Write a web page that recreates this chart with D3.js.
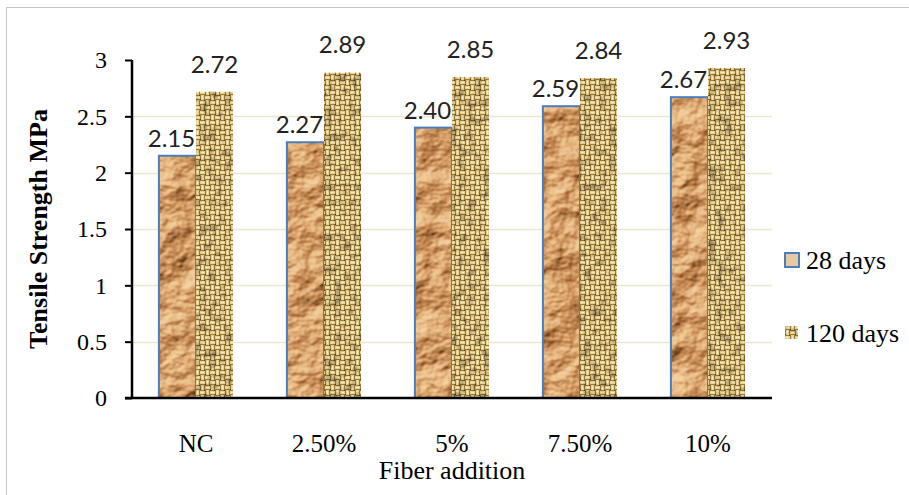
<!DOCTYPE html>
<html>
<head>
<meta charset="utf-8">
<script src="https://cdn.jsdelivr.net/npm/d3@7"></script>
<style>
  html, body { margin: 0; padding: 0; background: #fff; }
  svg { display: block; }
</style>
</head>
<body>
<svg id="chart" width="909" height="495"></svg>
<script>
// ---- data ----
const categories = ["NC", "2.50%", "5%", "7.50%", "10%"];
const seriesNames = ["28 days", "120 days"];
const days28 = [2.15, 2.27, 2.40, 2.59, 2.67];
const days120 = [2.72, 2.89, 2.85, 2.84, 2.93];
const labels28 = ["2.15", "2.27", "2.40", "2.59", "2.67"];
const labels120 = ["2.72", "2.89", "2.85", "2.84", "2.93"];
const yTicks = [0, 0.5, 1, 1.5, 2, 2.5, 3];
const yTickLabels = ["0", "0.5", "1", "1.5", "2", "2.5", "3"];
const gridValues = [0.5, 1, 1.5, 2, 2.5];
const yTitle = "Tensile Strength MPa";
const xTitle = "Fiber addition";

const svg = d3.select("#chart");
const W = 909, H = 495;
const plot = { left: 132, right: 772, top: 60, bottom: 398 };

// ---- defs: textures ----
const defs = svg.append("defs");

// crumpled paper filter: relief from noise, mapped to brown tones
const crumple = defs.append("filter").attr("id", "crumple")
  .attr("filterUnits", "userSpaceOnUse").attr("x", 0).attr("y", 0).attr("width", W).attr("height", H)
  .attr("color-interpolation-filters", "sRGB");
crumple.append("feTurbulence").attr("type", "fractalNoise")
  .attr("baseFrequency", "0.028 0.034").attr("numOctaves", 4).attr("seed", 11).attr("result", "noise");
const light = crumple.append("feDiffuseLighting").attr("in", "noise")
  .attr("lighting-color", "#ffffff").attr("surfaceScale", 7).attr("diffuseConstant", 1).attr("result", "lit");
light.append("feDistantLight").attr("azimuth", 235).attr("elevation", 45);
const ct = crumple.append("feComponentTransfer").attr("in", "lit").attr("result", "tone");
ct.append("feFuncR").attr("type", "table").attr("tableValues", "0.30 0.45 0.66 0.79 0.90 0.96");
ct.append("feFuncG").attr("type", "table").attr("tableValues", "0.16 0.27 0.44 0.56 0.71 0.83");
ct.append("feFuncB").attr("type", "table").attr("tableValues", "0.06 0.12 0.25 0.35 0.50 0.64");
crumple.append("feComposite").attr("in", "tone").attr("in2", "SourceGraphic").attr("operator", "in");

// woven burlap pattern
const weave = defs.append("pattern").attr("id", "weave")
  .attr("patternUnits", "userSpaceOnUse").attr("width", 10).attr("height", 10);
weave.append("rect").attr("width", 10).attr("height", 10).attr("fill", "#9a7b3c");
const lightStrands = [
  [0, 1, 5, 3], [6, 0, 3, 5], [5, 6, 5, 3], [1, 5, 3, 5]
];
weave.selectAll("rect.s").data(lightStrands).enter().append("rect").attr("class", "s")
  .attr("x", d => d[0]).attr("y", d => d[1]).attr("width", d => d[2]).attr("height", d => d[3])
  .attr("fill", "#e6d39a");
const midStrands = [[1, 2, 3, 1], [7, 1, 1, 3], [6, 7, 3, 1], [2, 6, 1, 3]];
weave.selectAll("rect.m").data(midStrands).enter().append("rect").attr("class", "m")
  .attr("x", d => d[0]).attr("y", d => d[1]).attr("width", d => d[2]).attr("height", d => d[3])
  .attr("fill", "#f6ecc4");
const darkDots = [[5, 4], [0, 9], [4, 0], [9, 5]];
weave.selectAll("rect.d").data(darkDots).enter().append("rect").attr("class", "d")
  .attr("x", d => d[0]).attr("y", d => d[1]).attr("width", 1).attr("height", 1)
  .attr("fill", "#5e4418");

// mottling filter for the weave (grayscale noise multiplied in)
const mottle = defs.append("filter").attr("id", "mottle")
  .attr("filterUnits", "userSpaceOnUse").attr("x", 0).attr("y", 0).attr("width", W).attr("height", H)
  .attr("color-interpolation-filters", "sRGB");
mottle.append("feTurbulence").attr("type", "fractalNoise")
  .attr("baseFrequency", "0.12").attr("numOctaves", 2).attr("seed", 4).attr("result", "n");
mottle.append("feColorMatrix").attr("in", "n").attr("type", "matrix")
  .attr("values", "1 0 0 0 0  1 0 0 0 0  1 0 0 0 0  0 0 0 0 1").attr("result", "gray");
const mct = mottle.append("feComponentTransfer").attr("in", "gray").attr("result", "shade");
mct.append("feFuncR").attr("type", "linear").attr("slope", 1.0).attr("intercept", 0.5);
mct.append("feFuncG").attr("type", "linear").attr("slope", 1.0).attr("intercept", 0.48);
mct.append("feFuncB").attr("type", "linear").attr("slope", 1.0).attr("intercept", 0.44);
mottle.append("feBlend").attr("in", "SourceGraphic").attr("in2", "shade").attr("mode", "multiply").attr("result", "b");
mottle.append("feComposite").attr("in", "b").attr("in2", "SourceGraphic").attr("operator", "in");

// ---- outer border ----
svg.append("rect").attr("x", 6.5).attr("y", 7.5).attr("width", W).attr("height", H)
  .attr("fill", "none").attr("stroke", "#c4c4c4").attr("stroke-width", 1);

// ---- scales ----
const x = d3.scaleBand().domain(categories).range([plot.left, plot.right])
  .paddingInner(0.42).paddingOuter(0.21);
const xs = d3.scaleBand().domain(seriesNames).range([0, x.bandwidth()]);
const y = d3.scaleLinear().domain([0, 3]).range([plot.bottom, plot.top]);

// ---- gridlines ----
svg.append("g").selectAll("line").data(gridValues).enter().append("line")
  .attr("x1", plot.left).attr("x2", plot.right)
  .attr("y1", d => Math.round(y(d)) + 0.5).attr("y2", d => Math.round(y(d)) + 0.5)
  .attr("stroke", "#ebe6cd").attr("stroke-width", 1.5);

// ---- bars ----
const rows = categories.map((c, i) => ({ cat: c, v28: days28[i], v120: days120[i], l28: labels28[i], l120: labels120[i] }));

const g = svg.append("g");
// 28 days
g.selectAll("rect.b28").data(rows).enter().append("rect").attr("class", "b28")
  .attr("x", d => x(d.cat) + xs("28 days")).attr("y", d => y(d.v28))
  .attr("width", xs.bandwidth()).attr("height", d => y(0) - y(d.v28))
  .attr("fill", "#c9a07a").attr("filter", "url(#crumple)");
g.selectAll("rect.b28s").data(rows).enter().append("rect").attr("class", "b28s")
  .attr("x", d => x(d.cat) + xs("28 days")).attr("y", d => y(d.v28))
  .attr("width", xs.bandwidth()).attr("height", d => y(0) - y(d.v28))
  .attr("fill", "none").attr("stroke", "#4a7ebb").attr("stroke-width", 2);
// 120 days
g.selectAll("rect.b120").data(rows).enter().append("rect").attr("class", "b120")
  .attr("x", d => x(d.cat) + xs("120 days")).attr("y", d => y(d.v120))
  .attr("width", xs.bandwidth()).attr("height", d => y(0) - y(d.v120))
  .attr("fill", "url(#weave)").attr("filter", "url(#mottle)");

// ---- data labels ----
const labelFont = "Lato, 'Open Sans', sans-serif";
g.selectAll("text.l28").data(rows).enter().append("text").attr("class", "l28")
  .attr("x", d => x(d.cat) + xs("28 days") + xs.bandwidth() / 2 - 6)
  .attr("y", d => y(d.v28) - 9)
  .attr("text-anchor", "middle").attr("font-family", labelFont).attr("font-size", 24)
  .attr("fill", "#222").text(d => d.l28);
g.selectAll("text.l120").data(rows).enter().append("text").attr("class", "l120")
  .attr("x", d => x(d.cat) + xs("120 days") + xs.bandwidth() / 2)
  .attr("y", d => y(d.v120) - 19)
  .attr("text-anchor", "middle").attr("font-family", labelFont).attr("font-size", 24)
  .attr("fill", "#222").text(d => d.l120);

// ---- axes ----
const serif = "'Liberation Serif', 'Times New Roman', serif";
const yAxis = d3.axisLeft(y).tickValues(yTicks).tickSize(7).tickPadding(18)
  .tickFormat((d, i) => yTickLabels[i]);
const ya = svg.append("g").attr("transform", `translate(${plot.left},0)`).call(yAxis);
ya.select(".domain").attr("stroke", "#000").attr("stroke-width", 2.5)
  .attr("d", `M0,${plot.top}V${plot.bottom}`);
ya.selectAll(".tick line").attr("stroke", "#000").attr("stroke-width", 2);
ya.selectAll(".tick text").attr("font-family", serif).attr("font-size", 24).attr("fill", "#000");

const xAxis = d3.axisBottom(x).tickSize(0).tickPadding(36);
const xa = svg.append("g").attr("transform", `translate(0,${plot.bottom})`).call(xAxis);
xa.select(".domain").attr("stroke", "#000").attr("stroke-width", 2.5)
  .attr("d", `M${plot.left - 7},0H${plot.right}`);
xa.selectAll(".tick text").attr("font-family", serif).attr("font-size", 25).attr("fill", "#000");

// ---- axis titles ----
svg.append("text").attr("transform", `translate(47,${(plot.top + plot.bottom) / 2}) rotate(-90)`)
  .attr("text-anchor", "middle").attr("font-family", serif).attr("font-weight", "bold")
  .attr("font-size", 26).attr("fill", "#000").text(yTitle);
svg.append("text").attr("x", (plot.left + plot.right) / 2).attr("y", 479)
  .attr("text-anchor", "middle").attr("font-family", serif).attr("font-size", 26)
  .attr("fill", "#000").text(xTitle);

// ---- legend ----
const legend = svg.append("g");
const legendItems = [
  { name: seriesNames[0], y: 260 },
  { name: seriesNames[1], y: 333 }
];
// 28 days marker
legend.append("rect").attr("x", 785).attr("y", legendItems[0].y - 7).attr("width", 14).attr("height", 14)
  .attr("fill", "#e6c8a4");
legend.append("rect").attr("x", 785).attr("y", legendItems[0].y - 7).attr("width", 14).attr("height", 14)
  .attr("fill", "none").attr("stroke", "#4a7ebb").attr("stroke-width", 2);
// 120 days marker
legend.append("rect").attr("x", 785).attr("y", legendItems[1].y - 7).attr("width", 13).attr("height", 13)
  .attr("fill", "url(#weave)").attr("filter", "url(#mottle)");
legend.selectAll("text").data(legendItems).enter().append("text")
  .attr("x", 806).attr("y", d => d.y + 9)
  .attr("font-family", serif).attr("font-size", 26).attr("fill", "#000")
  .text(d => d.name);
</script>
</body>
</html>
